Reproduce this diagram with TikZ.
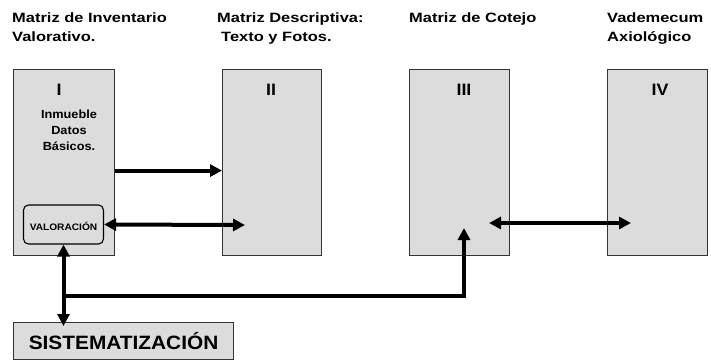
\documentclass[tikz,border=0pt]{standalone}
\usepackage{fontspec}
\setmainfont{Liberation Sans}
\newfontfamily\hfont[FakeStretch=1.22]{Liberation Sans}
\newfontfamily\nfont[FakeStretch=1.08]{Liberation Sans}
\usetikzlibrary{arrows.meta}
\definecolor{boxfill}{HTML}{DCDCDC}
\definecolor{boxline}{HTML}{333333}
\tikzset{
  box/.style={draw=boxline, line width=1.1pt, fill=boxfill, anchor=north west, inner sep=0pt},
  hdr/.style={anchor=base west, align=left, inner sep=0pt, font=\hfont\bfseries\fontsize{13.5}{19}\selectfont},
  roman/.style={anchor=base, inner sep=0pt, font=\nfont\bfseries\fontsize{16.5}{18}\selectfont},
  conn/.style={line width=4pt, draw=black},
  tip/.style={-{Triangle[length=12pt,width=12pt]}},
  dtip/.style={{Triangle[length=12pt,width=12pt]}-{Triangle[length=12pt,width=12pt]}}
}
\begin{document}
\begin{tikzpicture}[x=1pt,y=-1pt]
\useasboundingbox (0,0) rectangle (711,360);
% headers (anchor = baseline of last line)
\node[hdr] (h1) at (12,41.5) {Matriz de Inventario\\Valorativo.};
\node[hdr] (h2) at (217,41.5) {Matriz Descriptiva:\\\hspace*{4pt}Texto y Fotos.};
\node[hdr] (h3) at (409,22.5) {Matriz de Cotejo};
\node[hdr] (h4) at (607,41.5) {Vademecum\\Axiológico};
% boxes
\node[box, minimum width=101pt, minimum height=186pt] (b1) at (13,69) {};
\node[box, minimum width=99pt, minimum height=186pt] (b2) at (222,69) {};
\node[box, minimum width=100pt, minimum height=186pt] (b3) at (409,69) {};
\node[box, minimum width=100pt, minimum height=186pt] (b4) at (607,69) {};
% roman numerals
\node[roman] (r1) at (59,95) {I};
\node[roman] (r2) at (271,95) {II};
\node[roman] (r3) at (464,95) {III};
\node[roman] (r4) at (660,95) {IV};
% inner text
\node[anchor=base, align=center, inner sep=0pt, font=\nfont\bfseries\fontsize{11.8}{16}\selectfont] (t1) at (69,150) {Inmueble\\Datos\\Básicos.};
% valoracion
\node[draw=black, line width=1.1pt, rounded corners=5pt, fill=boxfill, minimum width=80pt, minimum height=39pt, inner sep=0pt, font=\nfont\bfseries\fontsize{9.4}{11}\selectfont, text depth=0pt] (val) at (63.5,224.5) {\raisebox{-3pt}{VALORACIÓN}};
% sistematizacion
\node[box, minimum width=220pt, minimum height=37pt, font=\nfont\bfseries\fontsize{19.3}{22}\selectfont] (sist) at (13,322) {SISTEMATIZACIÓN};
% coordinates
\coordinate (c2) at (245,225);
\coordinate (c3) at (464,228);
\coordinate (c4a) at (489,223);
\coordinate (c4b) at (631,223);
\coordinate (j) at (63.5,296);
% connectors
\draw[conn, tip] ([yshift=-8pt]b1.east) -- ([yshift=-8pt]b2.west);
\draw[conn, dtip] (val.east) -- (c2);
\draw[conn, dtip] (val.south) -- ([yshift=-4pt]sist.north -| val.south);
\draw[conn, tip] (j) -| (c3);
\draw[conn, dtip] (c4a) -- (c4b);
\end{tikzpicture}
\end{document}
